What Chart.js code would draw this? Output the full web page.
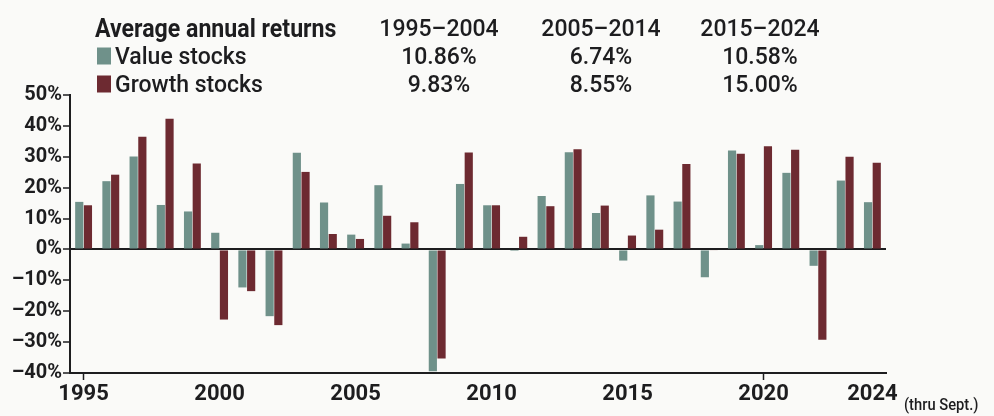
<!DOCTYPE html>
<html>
<head>
<meta charset="utf-8">
<script src="https://cdn.jsdelivr.net/npm/chart.js@4"></script>
<style>
    html, body { margin: 0; padding: 0; background: #fafaf8; }
    #wrap { position: relative; width: 994px; height: 416px; overflow: hidden; }
    #chart { position: absolute; left: 0; top: 0; }
    .txt { position: absolute; white-space: nowrap; color: #1d1d1f; line-height: 1; transform: translateY(-50%); }
    .title { font-family: "Roboto", sans-serif; font-weight: 700; font-size: 26px; transform-origin: left center; transform: translateY(-50%) scaleX(0.89); }
    .row { font-family: "Roboto", sans-serif; font-weight: 500; font-size: 23px; }
    .col { font-family: "Roboto", sans-serif; font-weight: 500; font-size: 23px; transform: translate(-50%, -50%); }
    .swatch { position: absolute; width: 14px; height: 17px; transform: translateY(-50%); }
    .note { font-family: "Roboto", sans-serif; font-weight: 500; font-size: 16px; transform-origin: left center; transform: translateY(-50%) scaleX(0.92); }
</style>
</head>
<body>
<div id="wrap">
    <canvas id="chart" width="994" height="416"></canvas>
</div>
<script>
    // --- data ---
    const years = ["1995", "1996", "1997", "1998", "1999", "2000", "2001", "2002", "2003", "2004",
                   "2005", "2006", "2007", "2008", "2009", "2010", "2011", "2012", "2013", "2014",
                   "2015", "2016", "2017", "2018", "2019", "2020", "2021", "2022", "2023", "2024"];
    const valueReturns = [15.4, 22.1, 30.1, 14.4, 12.3, 5.4, -12.3, -21.6, 31.3, 15.2,
                          4.8, 20.8, 1.9, -39.4, 21.2, 14.3, -0.5, 17.3, 31.5, 11.8,
                          -3.6, 17.5, 15.5, -9.0, 32.0, 1.4, 24.8, -5.3, 22.3, 15.3];
    const growthReturns = [14.3, 24.2, 36.5, 42.3, 27.8, -22.7, -13.5, -24.5, 25.1, 5.0,
                           3.4, 10.9, 8.8, -35.3, 31.4, 14.3, 4.1, 14.0, 32.4, 14.2,
                           4.5, 6.4, 27.7, -0.3, 31.0, 33.4, 32.3, -29.2, 30.0, 28.1];
    const seriesNames = ["Value stocks", "Growth stocks"];
    const periods = ["1995\u20132004", "2005\u20132014", "2015\u20132024"];
    const valueAverages = ["10.86%", "6.74%", "10.58%"];
    const growthAverages = ["9.83%", "8.55%", "15.00%"];
    const shownYears = ["1995", "2000", "2005", "2010", "2015", "2020", "2024"];

    const VALUE_COLOR = "#6f918a";
    const GROWTH_COLOR = "#6d2a31";
    const INK = "#1d1d1f";

    // --- header table (html text on top of the canvas) ---
    const wrap = document.getElementById("wrap");
    function addText(text, cls, x, y) {
        const d = document.createElement("div");
        d.className = "txt " + cls;
        d.textContent = text;
        d.style.left = x + "px";
        d.style.top = y + "px";
        wrap.appendChild(d);
    }
    function addSwatch(color, x, y) {
        const s = document.createElement("div");
        s.className = "swatch";
        s.style.background = color;
        s.style.left = x + "px";
        s.style.top = y + "px";
        wrap.appendChild(s);
    }
    const colX = [439, 601, 760];
    const rowY = [28, 56, 84];
    addText("Average annual returns", "title", 95, rowY[0]);
    addSwatch(VALUE_COLOR, 97, rowY[1]);
    addText(seriesNames[0], "row", 115, rowY[1]);
    addSwatch(GROWTH_COLOR, 97, rowY[2]);
    addText(seriesNames[1], "row", 115, rowY[2]);
    periods.forEach((p, i) => addText(p, "col", colX[i], rowY[0]));
    valueAverages.forEach((v, i) => addText(v, "col", colX[i], rowY[1]));
    growthAverages.forEach((v, i) => addText(v, "col", colX[i], rowY[2]));
    addText("(thru Sept.)", "note", 904, 405);

    // --- the bar chart ---
    new Chart(document.getElementById("chart"), {
        type: "bar",
        data: {
            labels: years,
            datasets: [
                { label: seriesNames[0], data: valueReturns, backgroundColor: VALUE_COLOR },
                { label: seriesNames[1], data: growthReturns, backgroundColor: GROWTH_COLOR }
            ]
        },
        options: {
            responsive: false,
            animation: false,
            layout: { padding: { top: 95, right: 108, bottom: 0, left: 0 } },
            datasets: { bar: { categoryPercentage: 0.64, barPercentage: 0.94 } },
            plugins: { legend: { display: false }, tooltip: { enabled: false } },
            scales: {
                x: {
                    afterFit: s => { s.height = 43; },
                    border: { display: true, color: INK, width: 2 },
                    grid: {
                        offset: false,
                        drawOnChartArea: false,
                        drawTicks: true,
                        tickLength: 7,
                        tickWidth: 1.5,
                        tickColor: ctx => shownYears.includes(years[ctx.index]) ? INK : "rgba(0,0,0,0)"
                    },
                    ticks: {
                        autoSkip: false,
                        maxRotation: 0,
                        padding: 1,
                        color: INK,
                        font: { family: "Roboto", weight: "700", size: 22 },
                        callback: (v, i) => shownYears.includes(years[i]) ? years[i] : null
                    }
                },
                y: {
                    min: -40,
                    max: 50,
                    afterFit: s => { s.width = 70; },
                    border: { display: true, color: INK, width: 2 },
                    grid: {
                        drawTicks: true,
                        tickLength: 7,
                        tickWidth: 1.5,
                        tickColor: INK,
                        lineWidth: 2,
                        color: ctx => ctx.tick && ctx.tick.value === 0 ? INK : "rgba(0,0,0,0)"
                    },
                    ticks: {
                        stepSize: 10,
                        padding: 1,
                        color: INK,
                        font: { family: "Roboto", weight: "700", size: 20 },
                        callback: v => (v < 0 ? "\u2013" + Math.abs(v) : v) + "%"
                    }
                }
            }
        }
    });
</script>
</body>
</html>
